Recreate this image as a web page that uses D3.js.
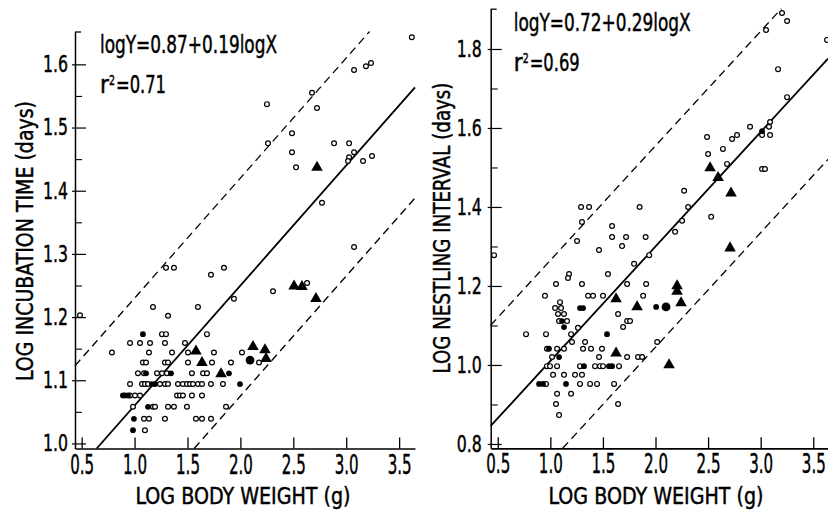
<!DOCTYPE html>
<html><head><meta charset="utf-8">
<script src="https://cdn.jsdelivr.net/npm/d3@7"></script>
<style>html,body{margin:0;padding:0;background:#fff;} svg{display:block}</style>
</head><body>
<svg id="c" width="828" height="516"></svg>
<script>
// ---------- data ----------
const xTicks = [0.5, 1.0, 1.5, 2.0, 2.5, 3.0, 3.5];
const leftYTicks = [1.0, 1.1, 1.2, 1.3, 1.4, 1.5, 1.6];
const leftYMinor = [1.05, 1.15, 1.25, 1.35, 1.45, 1.55];
const rightYTicks = [0.8, 1.0, 1.2, 1.4, 1.6, 1.8];
const rightYMinor = [0.9, 1.1, 1.3, 1.5, 1.7];

const leftFit = [0.87, 0.19];          // intercept, slope
const leftBand = [0.17, -0.175];       // dashed lines offsets
const rightFit = [0.72, 0.29];
const rightBand = [0.255, -0.255];

const leftEquation = ["logY=0.87+0.19logX", "0.71"];
const rightEquation = ["logY=0.72+0.29logX", "0.69"];
const xTitle = "LOG BODY WEIGHT (g)";
const leftYTitle = "LOG INCUBATION TIME (days)";
const rightYTitle = "LOG NESTLING INTERVAL (days)";

// Left panel: log incubation time vs log body weight
const leftOpen = [
  [3.62,1.643],[2.251,1.537],[2.261,1.475],[2.488,1.491],[2.488,1.461],[2.526,1.437],[2.677,1.555],
  [2.724,1.531],[2.771,1.381],[2.885,1.475],[3.027,1.475],[3.027,1.453],[3.074,1.461],[3.017,1.447],
  [3.159,1.447],[3.244,1.455],[3.074,1.591],[3.187,1.597],[3.234,1.602],[3.074,1.311],
  [0.484,1.203],[1.297,1.278],[1.372,1.278],[1.722,1.267],[1.845,1.278],[1.939,1.229],[1.174,1.216],
  [1.316,1.202],[1.599,1.216],[2.308,1.241],[2.630,1.254],
  [1.259,1.173],[1.297,1.173],[1.684,1.173],
  [0.957,1.159],[1.051,1.159],[1.146,1.159],[1.287,1.159],[1.476,1.159],
  [0.786,1.144],[1.136,1.144],[1.354,1.144],[1.505,1.144],[1.750,1.144],[2.015,1.144],
  [1.079,1.128],[1.108,1.128],[1.287,1.128],[1.316,1.128],[1.505,1.128],[1.732,1.128],[1.911,1.128],[2.176,1.128],
  [1.032,1.111],[1.089,1.111],[1.212,1.111],[1.259,1.111],[1.306,1.111],[1.542,1.111],[1.647,1.111],[1.684,1.111],
  [0.957,1.094],[1.070,1.094],[1.098,1.094],[1.127,1.094],[1.240,1.094],[1.287,1.094],[1.316,1.094],[1.410,1.094],
  [1.457,1.094],[1.495,1.094],[1.524,1.094],[1.552,1.094],[1.599,1.094],[1.637,1.094],[1.722,1.094],[1.835,1.094],
  [0.957,1.076],[1.004,1.076],[1.051,1.076],[1.401,1.076],[1.429,1.076],[1.457,1.076],[1.542,1.076],[1.637,1.076],
  [0.985,1.058],[1.174,1.058],[1.193,1.058],[1.316,1.058],[1.372,1.058],[1.495,1.058],[1.864,1.058],
  [1.089,1.039],[1.136,1.039],[1.287,1.039],[1.580,1.039],[1.637,1.039],[1.722,1.039],
  [1.098,1.021]
];
const leftFilled = [
  [1.079,1.173],[1.108,1.111],[1.344,1.111],[1.892,1.111],[1.164,1.094],[1.193,1.094],[1.996,1.094],
  [0.890,1.076],[0.909,1.076],[0.938,1.076],[1.127,1.058],[0.994,1.039],[0.985,1.021]
];
const leftTriangles = [
  [1.580,1.146],[1.637,1.128],[1.817,1.110],[2.119,1.153],[2.232,1.148],[2.242,1.134],
  [2.507,1.249],[2.582,1.248],[2.714,1.229],[2.724,1.437]
];
const leftBig = [[2.091,1.132]];

// Right panel: log nestling interval vs log body weight
const rightOpen = [
  [3.203,1.891],[3.251,1.871],[3.051,1.848],[3.631,1.823],[3.165,1.749],[3.251,1.678],[3.089,1.615],
  [3.079,1.603],[3.089,1.582],[3.013,1.582],[2.899,1.603],[2.775,1.582],[2.728,1.572],[2.641,1.547],
  [2.49,1.577],[2.5,1.534],[2.68,1.509],[3.013,1.496],[3.041,1.496],[2.529,1.375],[2.272,1.441],
  [2.31,1.40],[2.253,1.365],[2.186,1.337],[1.94,1.278],[1.292,1.40],[1.368,1.40],[1.301,1.362],
  [1.254,1.314],[1.587,1.352],[1.587,1.324],[1.682,1.301],[1.72,1.324],[1.849,1.40],[1.906,1.324],
  [1.463,1.291],[0.465,1.278],
  [1.796,1.256],[1.178,1.23],[1.168,1.22],[1.548,1.23],[1.054,1.205],[1.301,1.205],[1.73,1.205],
  [1.911,1.205],[0.949,1.175],[1.359,1.175],[1.406,1.175],[1.501,1.175],[1.882,1.175],[1.092,1.159],
  [1.045,1.144],[1.102,1.144],[1.073,1.129],[1.13,1.129],[1.644,1.129],[1.083,1.111],[1.159,1.111],
  [1.73,1.111],[1.758,1.111],[1.692,1.096],[1.263,1.094],[0.769,1.078],[0.959,1.078],[1.197,1.078],
  [1.206,1.058],[1.33,1.058],[2.016,1.058],[0.968,1.041],[1.064,1.041],[1.13,1.041],[1.311,1.041],
  [1.387,1.041],[1.491,1.041],[1.016,1.02],[1.463,1.02],[1.73,1.02],[1.834,1.02],[1.873,1.02],
  [0.968,0.997],[0.997,0.997],[1.064,0.997],[1.282,0.997],[1.425,0.997],[1.472,0.997],[1.501,0.997],
  [1.653,0.997],[1.026,0.975],[1.13,0.975],[1.235,0.975],[1.301,0.975],[0.959,0.952],[1.282,0.952],
  [1.378,0.952],[1.444,0.952],[1.606,0.952],[1.064,0.927],[1.197,0.927],[1.054,0.901],[1.644,0.901],
  [1.083,0.873]
];
const rightFilled = [
  [1.282,1.144],[1.311,1.144],[1.111,1.111],[1.13,1.096],[1.539,1.078],[0.987,1.041],[1.083,1.02],
  [1.32,0.997],[1.558,0.997],[1.587,0.997],[0.893,0.952],[0.93,0.952],[1.149,0.952],[2.006,1.147],
  [3.013,1.592]
];
const rightTriangles = [
  [1.625,1.167],[1.825,1.147],[2.205,1.2],[2.205,1.186],[2.243,1.157],[1.625,1.03],[2.129,1.0],
  [2.519,1.499],[2.595,1.474],[2.718,1.435],[2.709,1.296]
];
const rightBig = [[2.1,1.147]];

// ---------- drawing ----------
const FONT = "'Liberation Sans Narrow','DejaVu Sans Condensed','Liberation Sans',Arial,sans-serif";
const svg = d3.select("#c");

function styleText(sel, size, len) {
  sel.attr("font-size", size).attr("font-family", FONT).attr("fill", "#000")
     .attr("stroke", "#000").attr("stroke-width", 0.45);
  if (len) sel.attr("textLength", len).attr("lengthAdjust", "spacingAndGlyphs");
  return sel;
}

function panel(o) {
  const x = d3.scaleLinear().domain(o.xDom).range(o.xRange);
  const y = d3.scaleLinear().domain(o.yDom).range(o.yRange);
  const g = svg.append("g");

  // regression + band lines, clipped to plotting rectangle
  const line = d3.line().x(d => x(d[0])).y(d => y(d[1]));
  function seg(a, b) {
    const x0 = Math.max(o.xDom[0], (o.yDom[0] - a) / b);
    const x1 = Math.min(o.xDom[1], (o.yDom[1] - a) / b);
    return [[x0, a + b * x0], [x1, a + b * x1]];
  }
  g.append("path").attr("d", line(seg(o.fit[0], o.fit[1])))
    .attr("stroke", "#000").attr("stroke-width", 1.8).attr("fill", "none");
  o.band.forEach(off => {
    g.append("path").attr("d", line(seg(o.fit[0] + off, o.fit[1])))
      .attr("stroke", "#000").attr("stroke-width", 1.3).attr("fill", "none")
      .attr("stroke-dasharray", "8,5");
  });

  // axes
  const xa = g.append("g").attr("transform", `translate(0,${o.yRange[0]})`)
    .call(d3.axisBottom(x).tickValues(xTicks).tickSizeInner(-11).tickSizeOuter(0)
      .tickPadding(6).tickFormat(d3.format(".1f")));
  xa.select(".domain").attr("stroke-width", 1.7);
  xa.selectAll(".tick line").attr("stroke-width", 1.3);
  styleText(xa.selectAll(".tick text"), 27, 24);

  const ya = g.append("g").attr("transform", `translate(${o.xRange[0]},0)`)
    .call(d3.axisLeft(y).tickValues(o.yTicks).tickSizeInner(-11).tickSizeOuter(0)
      .tickPadding(o.yPad).tickFormat(d3.format(".1f")));
  ya.select(".domain").attr("stroke-width", 1.5);
  ya.selectAll(".tick line").attr("stroke-width", 1.2).attr("x1", -3);
  styleText(ya.selectAll(".tick text"), 23, 25);

  const ym = g.append("g").attr("transform", `translate(${o.xRange[0]},0)`)
    .call(d3.axisLeft(y).tickValues(o.yMinor).tickSizeInner(-7).tickSizeOuter(0).tickFormat(""));
  ym.select(".domain").remove();
  ym.selectAll(".tick line").attr("stroke-width", 1.1);

  // small cap at top of y axis
  g.append("line").attr("x1", o.xRange[0]).attr("x2", o.xRange[0] + 6)
    .attr("y1", o.yRange[1] + 0.5).attr("y2", o.yRange[1] + 0.5)
    .attr("stroke", "#000").attr("stroke-width", 1.3);

  // points
  g.append("g").selectAll("circle").data(o.open).join("circle")
    .attr("cx", d => x(d[0])).attr("cy", d => y(d[1])).attr("r", 2.4)
    .attr("fill", "#fff").attr("stroke", "#000").attr("stroke-width", 1.2);
  g.append("g").selectAll("circle").data(o.filled).join("circle")
    .attr("cx", d => x(d[0])).attr("cy", d => y(d[1])).attr("r", 2.9)
    .attr("fill", "#000");
  g.append("g").selectAll("circle").data(o.big).join("circle")
    .attr("cx", d => x(d[0])).attr("cy", d => y(d[1])).attr("r", 4.4)
    .attr("fill", "#000");
  const tri = d3.symbol(d3.symbolTriangle, 58);
  g.append("g").selectAll("path").data(o.tri).join("path")
    .attr("d", tri).attr("transform", d => `translate(${x(d[0])},${y(d[1])})`)
    .attr("fill", "#000");

  // equation text
  const ex = o.xRange[0] + o.eqDx;
  styleText(g.append("text").attr("x", ex).attr("y", o.eqY).text(o.eq[0]), 24, 177);
  styleText(g.append("text").attr("x", ex).attr("y", o.eqY + 40).text("r"), 24);
  styleText(g.append("text").attr("x", ex + 9).attr("y", o.eqY + 32).text("2"), 14, 6);
  styleText(g.append("text").attr("x", ex + 16).attr("y", o.eqY + 40).text("=" + o.eq[1]), 24, 50);

  // axis titles
  styleText(g.append("text").attr("x", o.xTitleX).attr("y", 504).attr("text-anchor", "middle")
    .text(xTitle), 23, 215);
  styleText(g.append("text")
    .attr("transform", `translate(${o.yTitleX},${o.yTitleY}) rotate(-90)`)
    .attr("text-anchor", "middle").text(o.yTitle), 23, o.yTitleLen);
}

panel({
  xDom: [0.437, 3.65], xRange: [75, 415],
  yDom: [0.992, 1.652], yRange: [448.5, 31.5],
  yTicks: leftYTicks, yMinor: leftYMinor, yPad: 7,
  fit: leftFit, band: leftBand,
  open: leftOpen, filled: leftFilled, tri: leftTriangles, big: leftBig,
  eq: leftEquation, eqDx: 25, eqY: 53,
  xTitleX: 243, yTitle: leftYTitle, yTitleX: 33, yTitleY: 241, yTitleLen: 280
});
panel({
  xDom: [0.433, 3.64], xRange: [490.7, 828],
  yDom: [0.789, 1.902], yRange: [448.3, 8.7],
  yTicks: rightYTicks, yMinor: rightYMinor, yPad: 9,
  fit: rightFit, band: rightBand,
  open: rightOpen, filled: rightFilled, tri: rightTriangles, big: rightBig,
  eq: rightEquation, eqDx: 23, eqY: 31,
  xTitleX: 656, yTitle: rightYTitle, yTitleX: 450, yTitleY: 228, yTitleLen: 291
});
</script>
</body></html>
